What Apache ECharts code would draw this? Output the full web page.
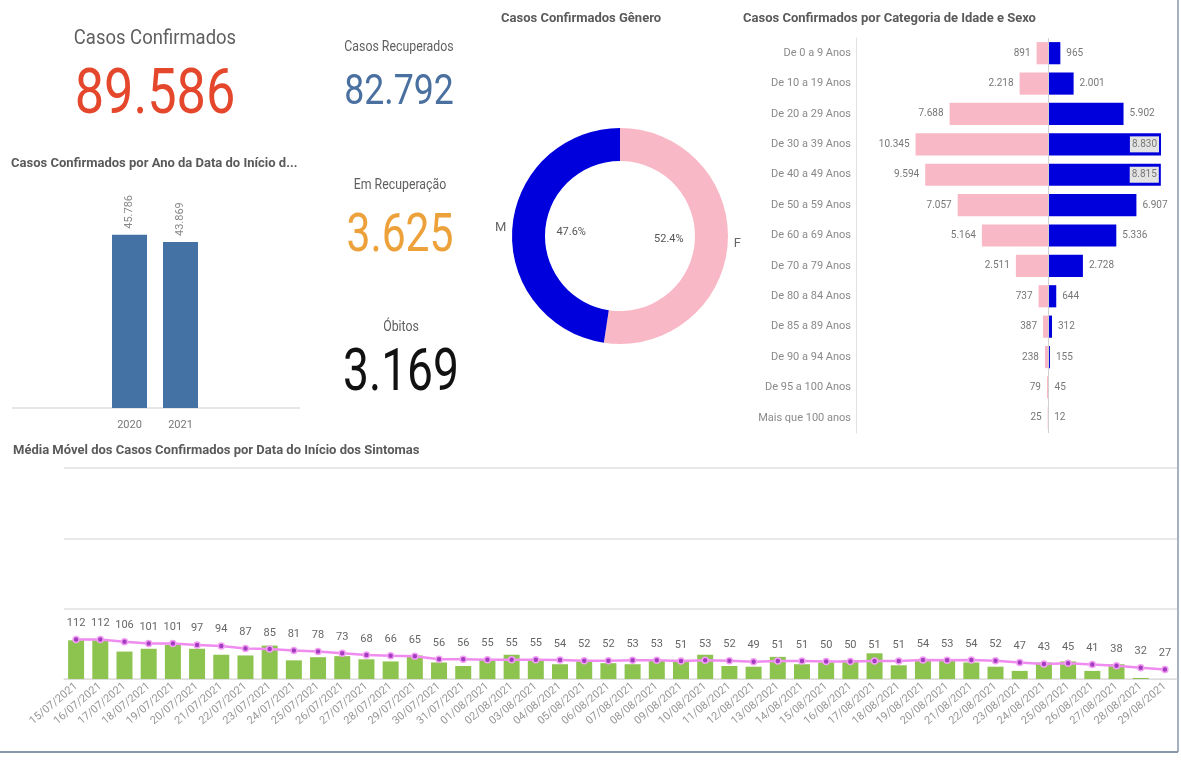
<!DOCTYPE html>
<html>
<head>
<meta charset="utf-8">
<title>Casos Confirmados</title>
<script src="https://cdn.jsdelivr.net/npm/echarts@6.0.0/dist/echarts.min.js"></script>
<style>
  html, body { margin: 0; padding: 0; background: #fff; }
  #main { width: 1181px; height: 765px; }
</style>
</head>
<body>
<div id="main"></div>
<script>
var kpiLabels = ['Casos Confirmados', 'Casos Recuperados', 'Em Recuperação', 'Óbitos'];
var kpiValues = [89586, 82792, 3625, 3169];

var years = ['2020', '2021'];
var yearCases = [45786, 43869];

var genders = ['F', 'M'];
var genderCases = [46934, 42652];

var ageGroups = ['De 0 a 9 Anos', 'De 10 a 19 Anos', 'De 20 a 29 Anos', 'De 30 a 39 Anos',
    'De 40 a 49 Anos', 'De 50 a 59 Anos', 'De 60 a 69 Anos', 'De 70 a 79 Anos',
    'De 80 a 84 Anos', 'De 85 a 89 Anos', 'De 90 a 94 Anos', 'De 95 a 100 Anos', 'Mais que 100 anos'];
var female = [891, 2218, 7688, 10345, 9594, 7057, 5164, 2511, 737, 387, 238, 79, 25];
var male = [965, 2001, 5902, 8830, 8815, 6907, 5336, 2728, 644, 312, 155, 45, 12];

var dates = ['15/07/2021', '16/07/2021', '17/07/2021', '18/07/2021', '19/07/2021', '20/07/2021',
    '21/07/2021', '22/07/2021', '23/07/2021', '24/07/2021', '25/07/2021', '26/07/2021',
    '27/07/2021', '28/07/2021', '29/07/2021', '30/07/2021', '31/07/2021', '01/08/2021',
    '02/08/2021', '03/08/2021', '04/08/2021', '05/08/2021', '06/08/2021', '07/08/2021',
    '08/08/2021', '09/08/2021', '10/08/2021', '11/08/2021', '12/08/2021', '13/08/2021',
    '14/08/2021', '15/08/2021', '16/08/2021', '17/08/2021', '18/08/2021', '19/08/2021',
    '20/08/2021', '21/08/2021', '22/08/2021', '23/08/2021', '24/08/2021', '25/08/2021',
    '26/08/2021', '27/08/2021', '28/08/2021', '29/08/2021'];
var dailyCases = [110, 110, 78, 86, 97, 86, 69, 67, 95, 53, 62, 65, 56, 50, 67, 47, 37, 54, 69, 56, 42, 50,
    45, 42, 54, 51, 69, 37, 35, 63, 42, 47, 54, 73, 39, 53, 56, 47, 35, 23, 47, 50, 23, 42, 3, 0];
var movingAvg = [112, 112, 106, 101, 101, 97, 94, 87, 85, 81, 78, 73, 68, 66, 65, 56, 56, 55, 55, 55, 54, 52,
    52, 53, 53, 51, 53, 52, 49, 51, 51, 50, 50, 51, 51, 54, 53, 54, 52, 47, 43, 45, 41, 38, 32, 27];

var FONT = 'Roboto, sans-serif';
var PINK = '#f9b8c6';
var BLUE = '#0000dc';

// 89586 -> "89.586"
function fmt(n) {
    return String(Math.abs(n)).replace(/\B(?=(\d{3})+(?!\d))/g, '.');
}

(function () {
    var myChart = echarts.init(document.getElementById('main'));

    // posicao e cor de cada KPI (fonte do Qlik e mais estreita, por isso o scaleX)
    var kpiStyle = [
        { x: 155, yl: 39, yv: 97, ls: 21, vs: 63, sx: 0.83, color: '#e4472c' },
        { x: 399, yl: 47, yv: 93, ls: 14, vs: 42, sx: 0.85, color: '#4a70a0' },
        { x: 400, yl: 185, yv: 237, ls: 14, vs: 54, sx: 0.79, color: '#eda13a' },
        { x: 401, yl: 327, yv: 375, ls: 14, vs: 60, sx: 0.77, color: '#111111' }
    ];
    var graphics = [];
    kpiLabels.forEach(function (txt, i) {
        var s = kpiStyle[i];
        graphics.push({
            type: 'text', x: s.x, y: s.yl, scaleX: 0.88,
            style: { text: txt, fontSize: s.ls, fontFamily: FONT, fill: '#5f5f5f', align: 'center', verticalAlign: 'middle' }
        });
        graphics.push({
            type: 'text', x: s.x, y: s.yv, scaleX: s.sx,
            style: { text: fmt(kpiValues[i]), fontSize: s.vs, fontFamily: FONT, fill: s.color, align: 'center', verticalAlign: 'middle' }
        });
    });
    // linha base do grafico por ano
    graphics.push({ type: 'line', shape: { x1: 12, y1: 408, x2: 300, y2: 408 }, style: { stroke: '#dedede', lineWidth: 1.5 } });
    // moldura
    graphics.push({ type: 'line', shape: { x1: 0, y1: 752, x2: 1178, y2: 752 }, style: { stroke: '#8797aa', lineWidth: 2 } });
    graphics.push({ type: 'line', shape: { x1: 1178, y1: 0, x2: 1178, y2: 752 }, style: { stroke: '#8797aa', lineWidth: 1.5 } });

    var titleStyle = { fontSize: 13, fontWeight: 'bold', color: '#5a5a5a', fontFamily: FONT };

    var option = {
        animation: false,
        textStyle: { fontFamily: FONT },
        title: [
            { text: 'Casos Confirmados por Ano da Data do Início d...', left: 6, top: 152, textStyle: titleStyle },
            { text: 'Casos Confirmados Gênero', left: 496, top: 7, textStyle: titleStyle },
            { text: 'Casos Confirmados por Categoria de Idade e Sexo', left: 738, top: 7, textStyle: titleStyle },
            { text: 'Média Móvel dos Casos Confirmados por Data do Início dos Sintomas', left: 8, top: 439, textStyle: titleStyle }
        ],
        graphic: graphics,
        grid: [
            { left: 104, top: 181, width: 102, height: 227 },
            { left: 856, top: 38, width: 320, height: 395 },
            { left: 64, top: 468, width: 1113, height: 211 }
        ],
        xAxis: [
            {
                type: 'category', gridIndex: 0, data: years,
                axisLine: { show: false }, axisTick: { show: false },
                axisLabel: { color: '#777', fontSize: 11, margin: 12 }
            },
            {
                type: 'value', gridIndex: 1, min: -15000, max: 10000, show: false
            },
            {
                type: 'category', gridIndex: 2, data: dates,
                axisTick: { show: false },
                axisLine: { lineStyle: { color: '#dddddd' } },
                axisLabel: { rotate: 40, interval: 0, color: '#959595', fontSize: 11, margin: 6 }
            }
        ],
        yAxis: [
            { type: 'value', gridIndex: 0, min: 0, max: 60000, show: false },
            {
                type: 'category', gridIndex: 1, data: ageGroups, inverse: true,
                axisLine: { onZero: false, lineStyle: { color: '#e2e2e2' } },
                axisTick: { show: false },
                axisLabel: { color: '#8a8a8a', fontSize: 11, margin: 5 }
            },
            {
                type: 'value', gridIndex: 2, min: 0, max: 600, interval: 200,
                axisLabel: { show: false }, axisLine: { show: false }, axisTick: { show: false },
                splitLine: { lineStyle: { color: '#e8e8e8', width: 2 } }
            }
        ],
        series: [
            {
                type: 'bar', xAxisIndex: 0, yAxisIndex: 0, data: yearCases,
                barWidth: 35,
                itemStyle: { color: '#4472a4' },
                label: {
                    show: true, position: 'top', rotate: 90, align: 'left', verticalAlign: 'middle',
                    distance: 6, color: '#888', fontSize: 11,
                    formatter: function (p) { return fmt(p.value); }
                }
            },
            {
                type: 'pie', radius: [75, 108], center: [620, 236],
                data: genders.map(function (g, i) { return { name: g, value: genderCases[i] }; }),
                color: [PINK, BLUE],
                label: { show: true, position: 'outside', formatter: '{b}', color: '#666', fontSize: 13 },
                labelLine: { show: false, length: 1, length2: 0 },
                emphasis: { disabled: true }
            },
            {
                // somente para os percentuais dentro do anel
                type: 'pie', radius: [0, 92], center: [620, 236], percentPrecision: 1, silent: true,
                data: genders.map(function (g, i) { return { name: g, value: genderCases[i] }; }),
                itemStyle: { color: 'rgba(0,0,0,0)' },
                label: {
                    show: true, position: 'inside', color: '#555', fontSize: 11,
                    formatter: function (p) { return p.percent.toFixed(1) + '%'; }
                },
                emphasis: { disabled: true }
            },
            {
                name: 'F', type: 'bar', xAxisIndex: 1, yAxisIndex: 1,
                data: female.map(function (v) { return -v; }),
                barWidth: '73%', barGap: '-100%',
                itemStyle: { color: PINK },
                label: {
                    show: true, position: 'left', distance: 6, color: '#777', fontSize: 10,
                    formatter: function (p) { return fmt(p.value); }
                }
            },
            {
                name: 'M', type: 'bar', xAxisIndex: 1, yAxisIndex: 1,
                data: male.map(function (v) {
                    // rotulo vai para dentro da barra quando encosta na borda
                    if (v > 8000) {
                        return { value: v, label: { position: 'insideRight', distance: 2, backgroundColor: '#e4e4e4', padding: [3, 2] } };
                    }
                    return v;
                }),
                barWidth: '73%',
                itemStyle: { color: BLUE },
                label: {
                    show: true, position: 'right', distance: 6, color: '#777', fontSize: 10,
                    formatter: function (p) { return fmt(p.value); }
                },
                markLine: {
                    silent: true, symbol: 'none', label: { show: false },
                    lineStyle: { color: '#d0d0d0', type: 'solid', width: 1 },
                    data: [{ xAxis: 0 }]
                }
            },
            {
                type: 'bar', xAxisIndex: 2, yAxisIndex: 2, data: dailyCases,
                barWidth: 16,
                itemStyle: { color: '#8dc450' }
            },
            {
                type: 'line', xAxisIndex: 2, yAxisIndex: 2, data: movingAvg,
                symbol: 'circle', symbolSize: 6,
                lineStyle: { color: '#f08cf0', width: 2.5 },
                itemStyle: { color: '#a33cc0', borderColor: '#f3a0f3', borderWidth: 1.5 },
                label: { show: true, position: 'top', distance: 7, color: '#666', fontSize: 11 }
            }
        ]
    };
    myChart.setOption(option);
})();
</script>
</body>
</html>
